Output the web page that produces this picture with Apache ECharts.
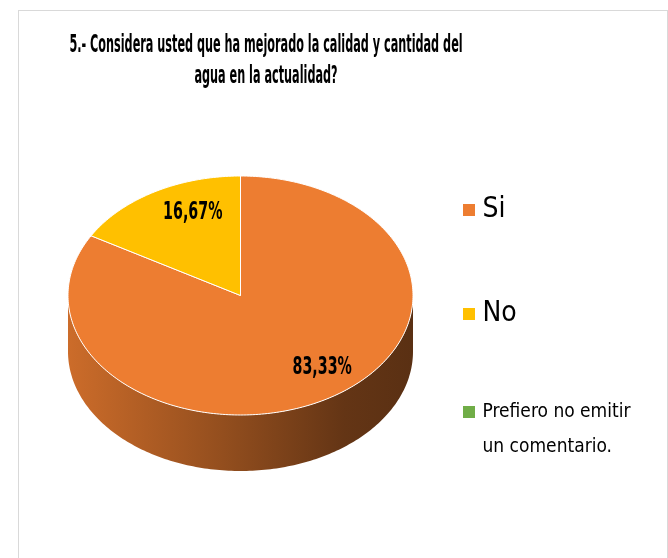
<!DOCTYPE html>
<html>
<head>
<meta charset="utf-8">
<script src="https://cdn.jsdelivr.net/npm/echarts@6/dist/echarts.min.js"></script>
<style>
html, body { margin: 0; padding: 0; background: #fff; }
#marco { position: absolute; left: 18px; top: 10px; width: 648px; height: 560px; border: 1px solid #d9d9d9; }
#grafico { position: absolute; left: 0; top: 0; width: 668px; height: 558px; }
</style>
</head>
<body>
<div id="marco"></div>
<div id="grafico"></div>
<script>
// pregunta 5 de la encuesta
var titulo = '5.- Considera usted que ha mejorado la calidad y cantidad del\nagua en la actualidad?';
var categorias = ['Si', 'No', 'Prefiero no emitir un comentario.'];
var porcentajes = [83.33, 16.67, 0];
var colores = ['#ED7D31', '#FFC000', '#70AD47'];

var fuente = "'Liberation Sans Narrow', 'DejaVu Sans Condensed', 'Noto Sans', sans-serif";
var total = porcentajes.reduce(function (a, b) { return a + b; }, 0);

// pastel "3D": elipse superior + costado
var cx = 240.5, cy = 295.5, rx = 172.5, ry = 119.5, alto = 56;

function punto(ang, dy) {
    var r = ang * Math.PI / 180;
    return [cx + rx * Math.sin(r), cy - ry * Math.cos(r) + dy];
}

function oscurecer(hex, f) {
    var n = parseInt(hex.slice(1), 16);
    var r = Math.round(((n >> 16) & 255) * f), g = Math.round(((n >> 8) & 255) * f), b = Math.round((n & 255) * f);
    return 'rgb(' + r + ',' + g + ',' + b + ')';
}

function dibujarPorcion(params, api) {
    var inicio = api.value(0), valor = api.value(1);
    if (!valor) return;
    var color = colores[params.seriesIndex];
    var a1 = inicio / total * 360, a2 = (inicio + valor) / total * 360;
    var hijos = [];

    // costado visible (mitad delantera, 90..270 grados)
    var s1 = Math.max(a1, 90), s2 = Math.min(a2, 270);
    if (s2 > s1) {
        var lado = [], a;
        for (a = s1; a <= s2; a += 1) lado.push(punto(a, 0));
        lado.push(punto(s2, 0));
        lado.push(punto(s2, alto));
        for (a = s2; a >= s1; a -= 1) lado.push(punto(a, alto));
        lado.push(punto(s1, alto));
        hijos.push({
            type: 'polygon',
            shape: { points: lado },
            style: {
                fill: {
                    type: 'linear', x: cx - rx, y: 0, x2: cx + rx, y2: 0, global: true,
                    colorStops: [
                        { offset: 0, color: oscurecer(color, 0.86) },
                        { offset: 0.45, color: oscurecer(color, 0.62) },
                        { offset: 0.8, color: oscurecer(color, 0.42) },
                        { offset: 1, color: oscurecer(color, 0.38) }
                    ]
                }
            }
        });
    }

    // cara superior
    var cara = [[cx, cy]];
    for (var b = a1; b < a2; b += 1) cara.push(punto(b, 0));
    cara.push(punto(a2, 0));
    hijos.push({
        type: 'polygon',
        shape: { points: cara },
        style: { fill: color, stroke: '#ffffff', lineWidth: 1 }
    });

    // etiqueta de porcentaje
    var medio = (a1 + a2) / 2 * Math.PI / 180;
    hijos.push({
        type: 'text',
        x: cx + rx * 0.75 * Math.sin(medio) + 17,
        y: cy - ry * 0.75 * Math.cos(medio) - 5,
        scaleX: 0.66,
        style: {
            text: valor.toFixed(2).replace('.', ',') + '%',
            fontFamily: fuente, fontSize: 24, fontWeight: 'bold',
            fill: '#000', align: 'center', verticalAlign: 'middle'
        }
    });
    return { type: 'group', children: hijos };
}

var series = [];
var acumulado = 0;
for (var i = 0; i < categorias.length; i++) {
    series.push({
        name: categorias[i],
        type: 'custom',
        coordinateSystem: 'none',
        renderItem: dibujarPorcion,
        itemStyle: { color: colores[i] },
        silent: true,
        data: [[acumulado, porcentajes[i]]]
    });
    acumulado += porcentajes[i];
}

var cuadro = 'path://M0,0H10V10H0Z';

var miGrafico = echarts.init(document.getElementById('grafico'));
var option = {
    animation: false,
    graphic: [{
        type: 'text',
        x: 266, y: 61,
        scaleX: 0.5,
        style: {
            text: titulo,
            fontFamily: fuente, fontSize: 25, fontWeight: 'bold',
            lineHeight: 31, fill: '#000',
            align: 'center', verticalAlign: 'middle'
        }
    }],
    legend: [
        {
            orient: 'vertical',
            left: 463, top: 195,
            padding: 0,
            itemGap: 74,
            itemWidth: 17, itemHeight: 12,
            icon: cuadro,
            data: [categorias[0], categorias[1]],
            textStyle: { fontFamily: fuente, fontSize: 28, lineHeight: 30, color: '#000' }
        },
        {
            orient: 'vertical',
            left: 463, top: 359.5,
            padding: 0,
            itemWidth: 17, itemHeight: 12,
            icon: cuadro,
            data: [categorias[2]],
            formatter: function () { return '\nPrefiero no emitir\nun comentario.'; },
            textStyle: { fontFamily: fuente, fontSize: 19, lineHeight: 35, color: '#000' }
        }
    ],
    series: series
};
miGrafico.setOption(option);
</script>
</body>
</html>
